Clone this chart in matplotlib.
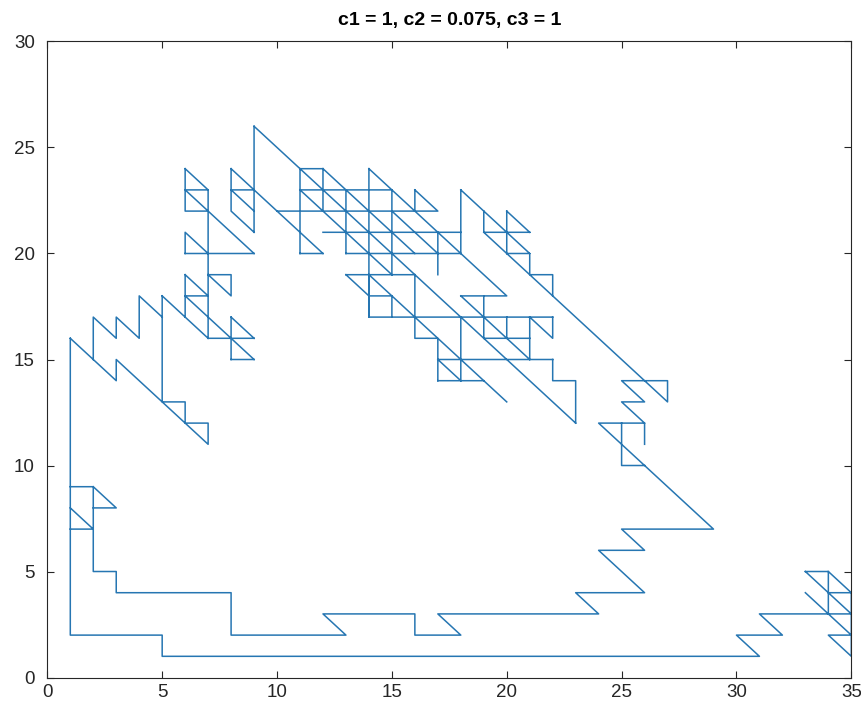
import numpy as np
import matplotlib.pyplot as plt

nan = np.nan

# lattice walk, traced piece by piece (nan = pen up)
# bottom loop
loop_x = [1, 1, 5, 5, 31, 30, 32, 31, 35]
loop_y = [16, 2, 2, 1, 1, 2, 2, 3, 3]

# staircase from the left edge to the right
stair_x = [1, 2, 2, 3, 3, 8, 8, 13, 12, 16, 16, 18, 17, 24, 23, 26, 24, 26, 25, 29, 24, 26, 26]
stair_y = [9, 9, 5, 5, 4, 4, 2, 2, 3, 3, 2, 2, 3, 3, 4, 4, 6, 6, 7, 7, 12, 12, 11]

# small bits on the left edge and in the bottom right corner
edge_x = [2, 3, 2, nan, 1, 2, 1, nan,
          33, 34, 35, 35, 34, 35, nan, 33, 35, nan, 33, 35, nan, 34, 34, nan, 34, 35]
edge_y = [9, 8, 8, nan, 8, 7, 7, nan,
          5, 5, 4, 1, 2, 2, nan, 5, 3, nan, 4, 2, nan, 5, 3, nan, 4, 4]

# right hand triangles
right_x = [19, 27, 27, 25, 26, 25, 26, nan, 25, 25, 26]
right_y = [21, 13, 14, 14, 13, 13, 12, nan, 12, 10, 10]

# left zig-zag
left_x = [1, 3, 3, 7, 7, 6, 6, 5, 5, nan, 2, 2, 3, 3, 4, 4, 5, nan, 5, 7]
left_y = [16, 14, 15, 11, 12, 12, 13, 13, 18, nan, 15, 17, 16, 17, 16, 18, 17, nan, 18, 16]

# column around x = 6..9
col_x = [9, 9, nan, 8, 9, 8, 9, nan, 8, 8, 9, nan, 6, 6, 7, nan, 6, 7, 6, 9, nan,
         7, 7, nan, 6, 9, nan, 6, 6, 7, nan, 7, 8, 8, 7, nan, 6, 7, 6, nan, 6, 6, nan,
         6, 9, nan, 8, 8, nan, 8, 9, nan, 8, 9, nan, 8, 9, nan, 7, 8]
col_y = [21, 26, nan, 24, 23, 23, 22, nan, 24, 22, 21, nan, 24, 22, 22, nan, 24, 23, 23, 20, nan,
         23, 16, nan, 20, 20, nan, 20, 21, 20, nan, 19, 19, 18, 19, nan, 19, 18, 18, nan, 19, 17, nan,
         18, 15, nan, 17, 15, nan, 17, 16, nan, 16, 16, nan, 15, 15, nan, 16, 16]

# dense cluster in the middle
clus_x = [9, 23, nan, 11, 12, nan, 11, 11, nan, 12, 12, nan, 11, 15, nan, 10, 16, nan,
          12, 18, nan, 11, 12, nan, 13, 18, nan, 13, 16, nan, 13, 13, nan, 14, 14, nan,
          15, 15, nan, 9, 12, nan, 14, 20, 18, nan, 16, 16, 17, 16, nan, 18, 18, nan, 18, 21, nan,
          19, 19, 21, nan, 20, 20, nan, 20, 21, nan, 20, 21, 21, 22, 22, nan, 17, 17, nan,
          11, 15, nan, 12, 16, nan, 15, 17]
clus_y = [26, 12, nan, 24, 24, nan, 24, 20, nan, 24, 22, nan, 23, 23, nan, 22, 22, nan,
          21, 21, nan, 20, 20, nan, 20, 20, nan, 19, 19, nan, 23, 20, nan, 24, 17, nan,
          23, 19, nan, 23, 20, nan, 24, 18, 18, nan, 23, 22, 22, 23, nan, 23, 20, nan, 23, 20, nan,
          22, 21, 21, nan, 22, 20, nan, 22, 21, nan, 20, 20, 19, 19, 18, nan, 21, 19, nan,
          23, 19, nan, 24, 20, nan, 22, 20]

# lower part of the cluster
low_x = [14, 14, nan, 14, 15, 15, nan, 14, 16, nan, 13, 14, nan, 14, 20, nan, 16, 16, 17, 17, nan,
         16, 22, nan, 17, 22, nan, 17, 19, nan, 18, 18, nan, 17, 18, nan, 19, 19, nan,
         20, 20, nan, 19, 21, nan, 21, 21, nan, 21, 22, 22, nan,
         22, 22, 23, 23, nan, 18, 21]
low_y = [19, 17, nan, 18, 18, 17, nan, 17, 17, nan, 19, 18, nan, 19, 13, nan, 19, 16, 16, 14, nan,
         17, 17, nan, 15, 15, nan, 14, 14, nan, 17, 14, nan, 15, 14, nan, 18, 16, nan,
         17, 16, nan, 16, 16, nan, 17, 15, nan, 17, 16, 17, nan,
         15, 14, 14, 12, nan, 18, 15]

pieces = [(loop_x, loop_y), (stair_x, stair_y), (edge_x, edge_y), (right_x, right_y),
          (left_x, left_y), (col_x, col_y), (clus_x, clus_y), (low_x, low_y)]
xs, ys = [], []
for px, py in pieces:
    xs += list(px) + [nan]
    ys += list(py) + [nan]

plt.rcParams['font.family'] = ['Liberation Sans', 'DejaVu Sans']

fig = plt.figure(figsize=(8.62, 7.19), dpi=100)
ax = fig.add_axes([0.0549, 0.0577, 0.9327, 0.8846])
ax.plot(xs, ys, color='#2676b2', lw=1.1)

ax.set_xlim(0, 35)
ax.set_ylim(0, 30)
ax.set_xticks(np.arange(0, 36, 5))
ax.set_yticks(np.arange(0, 31, 5))
ax.tick_params(direction='in', top=True, right=True, length=5, width=0.8,
               labelsize=13.5, colors='#262626')
ax.tick_params(axis='x', pad=5)
ax.tick_params(axis='y', pad=9)
for s in ax.spines.values():
    s.set_color('#262626')
    s.set_linewidth(0.8)
ax.set_title('c1 = 1, c2 = 0.075, c3 = 1', fontsize=14, fontweight='bold',
             color='black', pad=12)

fig.savefig('out.png', dpi=100)
